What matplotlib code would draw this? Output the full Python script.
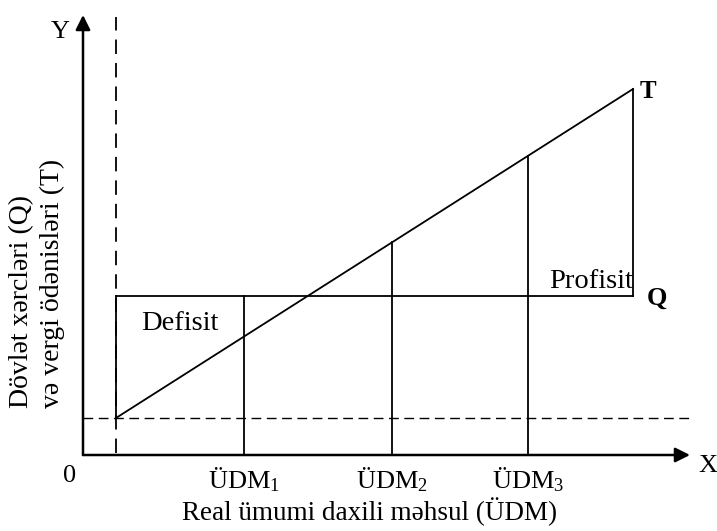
import matplotlib.pyplot as plt

plt.rcParams["font.family"] = ["Liberation Serif", "DejaVu Serif"]
plt.rcParams["mathtext.fontset"] = "custom"
plt.rcParams["mathtext.rm"] = "Liberation Serif"
plt.rcParams["mathtext.it"] = "Liberation Serif:italic"

# diagram units: origin at the axes corner
x_axis_end = 607
y_axis_end = 440
x_min_level = 33          # dashed vertical (start of T line)
t_start = 37              # dashed horizontal (T at x_min_level)
t_end_x = 550
t_end_y = 366
q_level = 159             # government spending Q
gdp_levels = [161, 309, 445]
gdp_labels = ["ÜDM$_1$", "ÜDM$_2$", "ÜDM$_3$"]


def tax(x):
    """Tax revenue line T through its two end points."""
    return t_start + (x - x_min_level) * (t_end_y - t_start) / (t_end_x - x_min_level)


fig = plt.figure(figsize=(7.17, 5.31), dpi=100)
ax = fig.add_axes([0, 0, 1, 1])
ax.set_xlim(-83, 634)
ax.set_ylim(-76, 455)
ax.axis("off")

lw = 1.3
# axes with arrows
ax.annotate("", xy=(x_axis_end, 0), xytext=(0, 0),
            arrowprops=dict(arrowstyle="-|>", mutation_scale=22, lw=1.8, color="black",
                            shrinkA=0, shrinkB=0))
ax.annotate("", xy=(0, y_axis_end), xytext=(0, 0),
            arrowprops=dict(arrowstyle="-|>", mutation_scale=22, lw=1.8, color="black",
                            shrinkA=0, shrinkB=0))

# dashed guide lines
ax.plot([x_min_level, x_min_level], [2, 438], color="black", lw=lw, ls=(0, (8, 5)))
ax.plot([0, x_axis_end], [t_start, t_start], color="black", lw=1.0, ls=(0, (7, 4)))

# T and Q lines
ax.plot([x_min_level, t_end_x], [tax(x_min_level), t_end_y], color="black", lw=lw)
ax.plot([x_min_level, t_end_x], [q_level, q_level], color="black", lw=lw)
ax.plot([x_min_level, x_min_level], [t_start, q_level], color="black", lw=lw)
ax.plot([t_end_x, t_end_x], [q_level, t_end_y], color="black", lw=lw)

# verticals at each GDP level
for i, g in enumerate(gdp_levels):
    top = q_level if i == 0 else tax(g)
    ax.plot([g, g], [0, top], color="black", lw=lw)
    ax.text(g, -10, gdp_labels[i], ha="center", va="top", fontsize=19)

ax.text(-13, -10, "0", ha="center", va="top", fontsize=19)
ax.text(615, -11, "X", ha="left", va="center", fontsize=19)
ax.text(-13, 423, "Y", ha="right", va="center", fontsize=19)
ax.text(287, -42, "Real ümumi daxili məhsul (ÜDM)", ha="center", va="top", fontsize=19.5)

ax.text(-61, 47, "Dövlət xərcləri (Q)", rotation=90, ha="center", va="bottom", fontsize=20)
ax.text(-31, 47, "və vergi ödənisləri (T)", rotation=90, ha="center", va="bottom", fontsize=20)

ax.text(97, 132, "Defisit", ha="center", va="center", fontsize=20.5)
ax.text(508, 173, "Profisit", ha="center", va="center", fontsize=20.5)
ax.text(557, 363, "T", ha="left", va="center", fontsize=18, fontweight="bold")
ax.text(564, 157, "Q", ha="left", va="center", fontsize=19, fontweight="bold")

fig.savefig("out.png", dpi=100)
